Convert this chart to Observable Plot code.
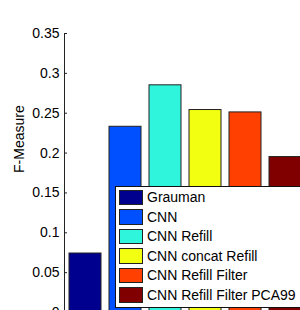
<!DOCTYPE html>
<html>
<head>
<meta charset="utf-8">
<script src="https://cdn.jsdelivr.net/npm/d3@7"></script>
<script src="https://cdn.jsdelivr.net/npm/@observablehq/plot@0.6"></script>
<style>
  html, body { margin: 0; padding: 0; background: #fff; overflow: hidden; }
  #wrap { position: relative; width: 300px; height: 310px; overflow: hidden; font-family: "Liberation Sans", Arial, sans-serif; }
  #wrap svg { overflow: hidden; }
  #legend { position: absolute; left: 115px; top: 186px; width: 200px; height: 119px; border: 1px solid #111; background: #fff; padding: 0.5px 0 0 3px; box-sizing: content-box; }
  .row { height: 19.5px; display: flex; align-items: center; }
  .sw { width: 22px; height: 13.5px; border: 1px solid #222; margin-right: 4px; flex: none; }
  .lab { font-size: 14px; color: #000; white-space: nowrap; }
</style>
</head>
<body>
<div id="wrap"></div>
<script>
const names = ["Grauman", "CNN", "CNN Refill", "CNN concat Refill", "CNN Refill Filter", "CNN Refill Filter PCA99"];
const values = [0.074, 0.233, 0.285, 0.254, 0.251, 0.195];
const colors = ["#00008f", "#0050ff", "#2ef5dc", "#f2ff10", "#ff4000", "#800000"];
const yTicks = [0, 0.05, 0.1, 0.15, 0.2, 0.25, 0.3, 0.35];
const yTickLabels = ["0", "0.05", "0.1", "0.15", "0.2", "0.25", "0.3", "0.35"];
const yLabel = "F-Measure";

const data = names.map((n, i) => ({name: n, value: values[i]}));

const chart = Plot.plot({
  width: 300,
  height: 310,
  marginLeft: 64,
  marginRight: -6,
  marginTop: 33,
  marginBottom: -2,
  style: {fontFamily: "'Liberation Sans', Arial, sans-serif", fontSize: "14px", color: "#000", background: "#fff"},
  x: {type: "band", domain: names, paddingInner: 0.2, paddingOuter: 0.1, axis: null},
  y: {domain: [0, 0.35]},
  color: {domain: names, range: colors},
  marks: [
    Plot.barY(data, {x: "name", y: "value", fill: "name", stroke: "#222", strokeWidth: 1}),
    Plot.frame({anchor: "left", stroke: "#222"}),
    Plot.axisY({
      ticks: yTicks,
      tickSize: -3,
      tickPadding: 8,
      tickFormat: d => yTickLabels[yTicks.indexOf(d)],
      stroke: "#222",
      fill: "#000",
      label: null
    }),
    Plot.text([yLabel], {frameAnchor: "left", rotate: -90, dx: -45, fontSize: 14, fill: "#000"})
  ]
});

const wrap = document.getElementById("wrap");
wrap.appendChild(chart);

const legend = d3.select(wrap).append("div").attr("id", "legend");
const rows = legend.selectAll("div.row").data(names).join("div").attr("class", "row");
rows.append("span").attr("class", "sw").style("background", (d, i) => colors[i]);
rows.append("span").attr("class", "lab").text(d => d);
</script>
</body>
</html>
